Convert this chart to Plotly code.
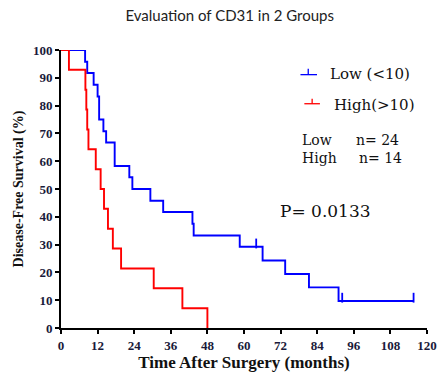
import plotly.graph_objects as go

# Kaplan-Meier step data
low_times = [0, 7.9, 8.6, 10.7, 12.0, 12.5, 13.9, 14.8, 17.6, 22.4, 23.4, 29.3, 33.5, 43.1, 43.5, 58.6, 66.1, 73.5, 81.3, 91.0, 115.6]
low_surv = [100, 95.8, 91.7, 87.5, 83.3, 75.0, 70.8, 66.7, 58.3, 54.2, 50.0, 45.8, 41.7, 37.5, 33.3, 29.2, 24.3, 19.4, 14.6, 9.7, 9.7]
low_cens_t = [64.0, 92.2, 115.6]
low_cens_s = [29.2, 9.7, 9.7]

high_times = [0, 2.6, 8.0, 8.3, 8.6, 9.0, 11.4, 13.0, 14.1, 15.4, 17.0, 19.7, 30.4, 39.8, 48.0]
high_surv = [100, 92.9, 85.7, 78.6, 71.4, 64.3, 57.1, 50.0, 42.9, 35.7, 28.6, 21.4, 14.3, 7.1, 0]

x_ticks = [0, 12, 24, 36, 48, 60, 72, 84, 96, 108, 120]
y_ticks = [0, 10, 20, 30, 40, 50, 60, 70, 80, 90, 100]

BLUE = "#0000ff"
RED = "#ff0000"
SERIF = "Liberation Serif, Times New Roman, serif"
WIDE = "DejaVu Serif, serif"

W, H = 446, 373
L, R, T, B = 61, 9, 50, 41

def px(xp):
    return (xp - L) / (W - L - R)

def py(yp):
    return 1 - (yp - T) / (H - T - B)

fig = go.Figure()
fig.add_trace(go.Scatter(x=low_times, y=low_surv, mode="lines", line=dict(color=BLUE, width=1.9, shape="hv"), showlegend=False))
fig.add_trace(go.Scatter(x=low_cens_t, y=[s + 1.2 for s in low_cens_s], mode="markers",
                         marker=dict(symbol="line-ns", size=7, line=dict(color=BLUE, width=1.8)), showlegend=False))
fig.add_trace(go.Scatter(x=high_times, y=high_surv, mode="lines", line=dict(color=RED, width=1.9, shape="hv"), showlegend=False))

# legend drawn manually
shapes = [
    dict(type="line", xref="paper", yref="paper", x0=px(307), x1=px(324), y0=py(75), y1=py(75), line=dict(color=BLUE, width=1.3)),
    dict(type="line", xref="paper", yref="paper", x0=px(315), x1=px(315), y0=py(75), y1=py(69), line=dict(color=BLUE, width=1.3)),
    dict(type="line", xref="paper", yref="paper", x0=px(311), x1=px(327), y0=py(104.5), y1=py(104.5), line=dict(color=RED, width=1.3)),
    dict(type="line", xref="paper", yref="paper", x0=px(319), x1=px(319), y0=py(104.5), y1=py(99.5), line=dict(color=RED, width=1.3)),
]

txt = dict(xref="paper", yref="paper", showarrow=False, xanchor="left", yanchor="middle",
           font=dict(family=WIDE, size=15, color="#111111"))
small = dict(txt, font=dict(family=WIDE, size=14, color="#111111"))
annos = [
    dict(text="Low (<10)", x=px(335), y=py(74), **txt),
    dict(text="High(>10)", x=px(339), y=py(106), **txt),
    dict(text="Low", x=px(307), y=py(141), **small),
    dict(text="n= 24", x=px(362), y=py(141), **small),
    dict(text="High", x=px(307), y=py(160), **small),
    dict(text="n= 14", x=px(365), y=py(160), **small),
]
annos.append(dict(text="P= 0.0133", x=px(284), y=py(213), xanchor="left", yanchor="middle", xref="paper", yref="paper",
                  showarrow=False, font=dict(family=WIDE, size=17, color="#111111")))

fig.update_layout(
    width=W, height=H,
    margin=dict(l=L, r=R, t=T, b=B),
    paper_bgcolor="white", plot_bgcolor="white",
    title=dict(text="Evaluation of CD31 in 2 Groups", x=0.515, xanchor="center", y=1 - 16 / H, yanchor="middle",
               font=dict(family="Lato, Open Sans, sans-serif", size=15, color="#222222")),
    shapes=shapes, annotations=annos,
    xaxis=dict(range=[0, 120], tickvals=x_ticks, ticktext=["<b>%d</b>" % v for v in x_ticks], showgrid=False, zeroline=False,
               showline=True, linecolor="black", linewidth=2, ticks="outside", ticklen=4, tickwidth=1.5, tickcolor="black",
               ticklabeloverflow="allow",
               tickfont=dict(family=SERIF, size=13, color="#1a1a3a"),
               title=dict(text="<b>Time After Surgery (months)</b>", font=dict(family=SERIF, size=17, color="#111111"), standoff=0)),
    yaxis=dict(range=[0, 100], tickvals=y_ticks, ticktext=["<b>%d</b>" % v for v in y_ticks], showgrid=False, zeroline=False,
               showline=True, linecolor="black", linewidth=2, ticks="outside", ticklen=4, tickwidth=1.5, tickcolor="black",
               tickfont=dict(family=SERIF, size=13, color="#1a1a3a"),
               title=dict(text="<b>Disease-Free Survival (%)</b>", font=dict(family=SERIF, size=14, color="#111111"), standoff=6)),
)
fig.write_html("out.html")
